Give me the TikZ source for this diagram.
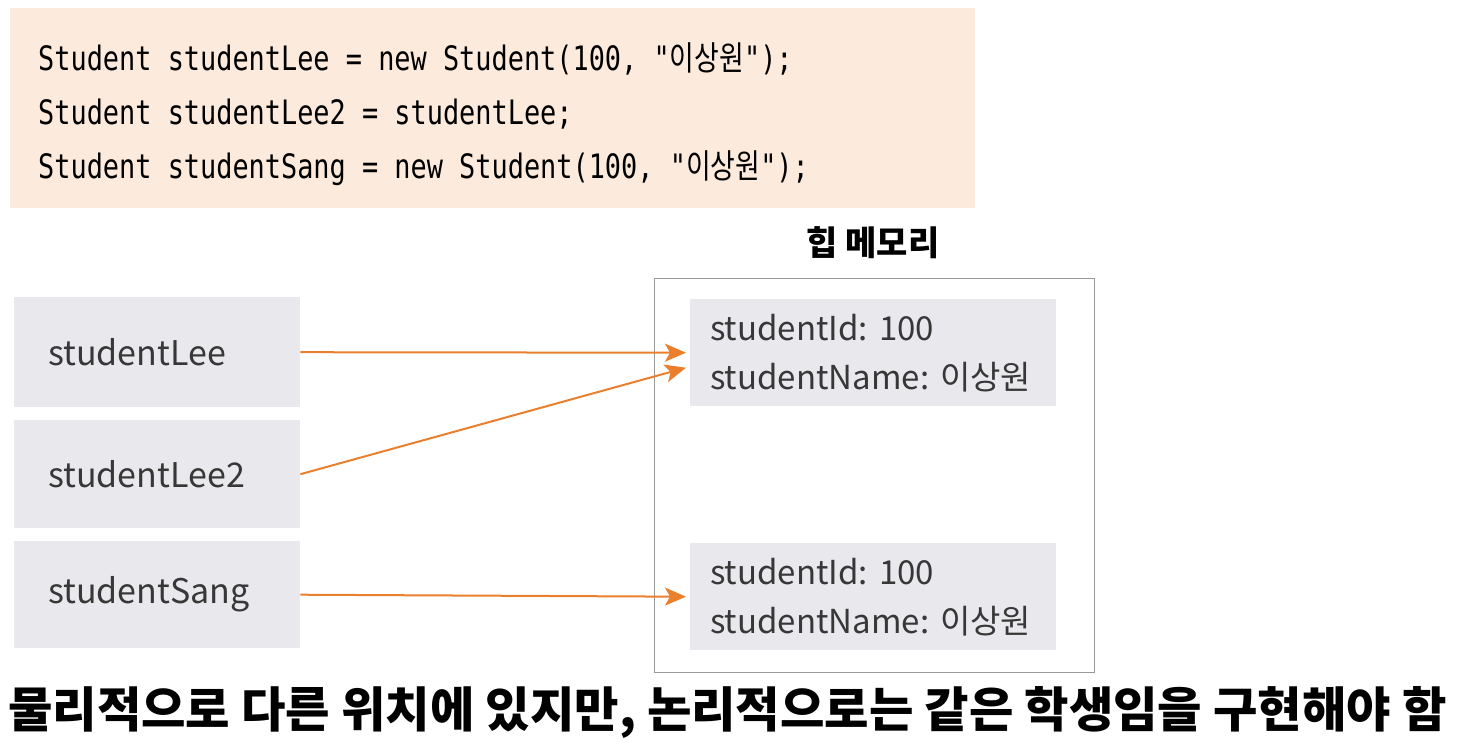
\documentclass[tikz,border=0pt]{standalone}
\usepackage{fontspec}
\setmainfont{Noto Sans CJK KR}
\newfontfamily\krfont{Noto Sans CJK KR}
\newfontfamily\codefont{DejaVu Sans Mono}
\usetikzlibrary{positioning,arrows.meta}
\tikzset{>=stealth}
\frenchspacing
\definecolor{codepeach}{RGB}{252,235,220}
\definecolor{boxgray}{RGB}{233,232,236}
\definecolor{arrorange}{RGB}{234,128,46}
\definecolor{txtgray}{RGB}{55,55,55}
\newcommand\codeline[1]{\scalebox{1}[1.25]{#1}}
\tikzset{
  varbox/.style={fill=boxgray,anchor=north west,text width=218pt,inner xsep=34pt,
    minimum height=110pt,align=left,text=txtgray,font=\fontsize{34}{40}\selectfont},
  objbox/.style={fill=boxgray,anchor=north west,text width=326pt,inner xsep=20pt,
    minimum height=107pt,align=left,text=txtgray,font=\fontsize{33}{49}\selectfont},
  ref/.style={-{Stealth[length=21pt,width=18pt,inset=5pt]},draw=arrorange,fill=arrorange,line width=2pt}
}

\begin{document}
\begin{tikzpicture}[x=1pt,y=-1pt]
\useasboundingbox (0,0) rectangle (1463,755);

% Code listing
\fill[codepeach] (10,8) rectangle (975,208);
\node[anchor=west,align=left,inner sep=0pt,font=\codefont\fontsize{26.9}{54}\selectfont] (code) at (38,114)
  {\codeline{Student studentLee = new Student(100, "{\krfont 이상원}");}\\
   \codeline{Student studentLee2 = studentLee;}\\
   \codeline{Student studentSang = new Student(100, "{\krfont 이상원}");}};

% Heap memory
\draw[gray!80,line width=1pt] (654,278) rectangle (1094,672);
\node[font=\krfont\bfseries\fontsize{34}{40}\selectfont] (heaplabel) at (873,243) {힙 메모리};
\node[objbox] (objLee) at (690,299) {studentId: 100\\studentName: 이상원};
\node[objbox] (objSang) at (690,543) {studentId: 100\\studentName: 이상원};

% Reference variables
\node[varbox] (varLee) at (14,297) {studentLee};
\node[varbox,minimum height=108pt] (varLeeTwo) at (14,420) {studentLee2};
\node[varbox,minimum height=107pt] (varSang) at (14,541) {studentSang};

% References
\draw[ref] (varLee.east) -- ([xshift=-4pt]objLee.west);
\draw[ref] (varLeeTwo.east) -- ([xshift=-4pt,yshift=-15pt]objLee.west);
\draw[ref] (varSang.east) -- ([xshift=-4pt]objSang.west);

% Caption
\node[font=\krfont\bfseries\fontsize{48.3}{54}\selectfont,anchor=west,inner sep=0pt] (caption) at (8,712)
  {물리적으로 다른 위치에 있지만, 논리적으로는 같은 학생임을 구현해야 함};

\end{tikzpicture}
\end{document}
